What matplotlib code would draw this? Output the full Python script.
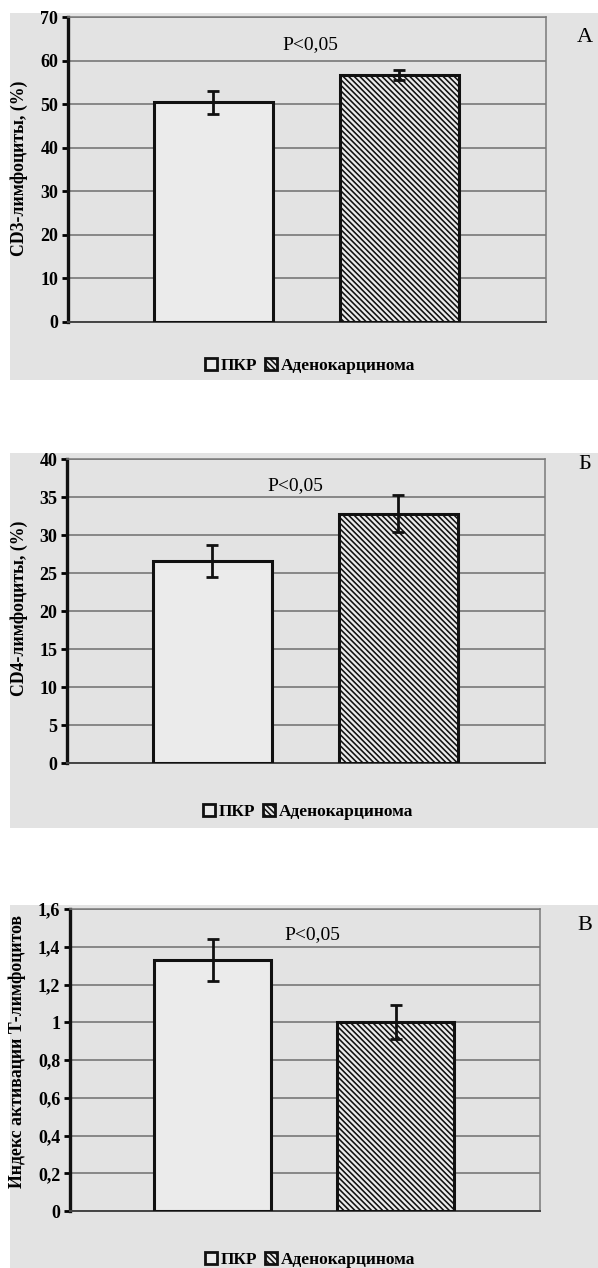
import numpy as np
import matplotlib
matplotlib.use('Agg')
import matplotlib.pyplot as plt
from matplotlib.patches import Rectangle, Patch

W, H = 598, 1268
plt.rcParams['font.family'] = ['Liberation Serif', 'DejaVu Serif']
plt.rcParams['hatch.linewidth'] = 1.15

groups = ['ПКР', 'Аденокарцинома']

cd3_mean = [50.4, 56.7]
cd3_err = [2.6, 1.2]
cd4_mean = [26.6, 32.8]
cd4_err = [2.1, 2.4]
idx_mean = [1.33, 1.00]
idx_err = [0.11, 0.09]

ylabels = ['CD3-лимфоциты, (%)', 'CD4-лимфоциты, (%)', 'Индекс активации Т-лимфоцитов']
panel_letters = ['А', 'Б', 'В']
pvalue = 'P<0,05'

BG = '#e3e3e3'
GRID = '#6e6e6e'
HATCH = '\\' * 6

fig = plt.figure(figsize=(W / 100, H / 100), dpi=100)
fig.patch.set_facecolor('white')


def fx(x):
    return x / W


def fy(y):
    return 1 - y / H


# panel layout in pixels: bg top/bottom, axes left/right/top/bottom
panels = [
    dict(bg=(13, 380), ax=(68, 546, 17, 322), ylim=70, step=10, ylab=(19, 168),
         p_xy=(0.506, 0.908), letter=(585, 38), leg=(310, 366)),
    dict(bg=(453, 828), ax=(67, 545, 459, 763), ylim=40, step=5, ylab=(19, 608),
         p_xy=(0.477, 0.914), letter=(585, 465), leg=(308, 812)),
    dict(bg=(905, 1268), ax=(70, 540, 909, 1211), ylim=1.6, step=0.2, ylab=(17, 1051),
         p_xy=(0.515, 0.914), letter=(585, 925), leg=(310, 1260)),
]
means = [cd3_mean, cd4_mean, idx_mean]
errs = [cd3_err, cd4_err, idx_err]

for i, p in enumerate(panels):
    t, b = p['bg']
    fig.patches.append(Rectangle((fx(10), fy(b)), fx(W - 10), (b - t) / H,
                                 transform=fig.transFigure, facecolor=BG,
                                 edgecolor='none', zorder=-10))
    l, r, at, ab = p['ax']
    ax = fig.add_axes([fx(l), fy(ab), (r - l) / W, (ab - at) / H])
    ax.set_zorder(1)
    ax.set_facecolor('none')

    x = np.arange(len(groups))
    ax.bar(x[0], means[i][0], width=0.64, facecolor='#ebebeb', edgecolor='#111111',
           linewidth=2.2, zorder=3)
    ax.bar(x[1], means[i][1], width=0.64, facecolor='#ebebeb', edgecolor='#111111',
           hatch=HATCH, linewidth=2.2, zorder=3)
    ax.errorbar(x, means[i], yerr=errs[i], fmt='none', ecolor='#111111',
                elinewidth=2, capsize=4, capthick=2, zorder=4)

    ax.set_xlim(-0.78, 1.79)
    ax.set_ylim(0, p['ylim'])
    ticks = np.arange(0, p['ylim'] + p['step'] / 2, p['step'])
    ax.set_yticks(ticks)
    if p['step'] < 1:
        ax.set_yticklabels([('%g' % round(v, 1)).replace('.', ',') for v in ticks])
    else:
        ax.set_yticklabels(['%d' % v for v in ticks])
    ax.set_xticks([])
    ax.tick_params(axis='y', direction='out', length=4, width=2, pad=3,
                   labelsize=13)
    for lab in ax.get_yticklabels():
        lab.set_fontweight('bold')
    ax.grid(axis='y', color=GRID, linewidth=1.1, zorder=1)
    ax.set_axisbelow(True)
    ax.spines['left'].set_linewidth(2.4)
    ax.spines['left'].set_color('#111111')
    for s in ['top', 'right']:
        ax.spines[s].set_color('#7a7a7a')
        ax.spines[s].set_linewidth(1.1)
    ax.spines['bottom'].set_color('#444444')
    ax.spines['bottom'].set_linewidth(1.4)

    ax.text(p['p_xy'][0], p['p_xy'][1], pvalue, transform=ax.transAxes,
            ha='center', va='center', fontsize=14)

    fig.text(fx(p['ylab'][0]), fy(p['ylab'][1]), ylabels[i], rotation=90,
             ha='center', va='center', fontsize=12.8, fontweight='bold')
    fig.text(fx(p['letter'][0]), fy(p['letter'][1]), panel_letters[i],
             ha='center', va='center', fontsize=16)

    handles = [Patch(facecolor='#ebebeb', edgecolor='#111111', linewidth=2),
               Patch(facecolor='#ebebeb', edgecolor='#111111', linewidth=2,
                     hatch=HATCH)]
    fig.legend(handles, groups, loc='center',
               bbox_to_anchor=(fx(p['leg'][0]), fy(p['leg'][1])),
               ncol=2, frameon=False, handlelength=0.7, handleheight=0.7,
               handletextpad=0.25, columnspacing=0.4,
               prop={'family': 'Liberation Serif', 'weight': 'bold', 'size': 12.5})

fig.savefig('out.png', dpi=100)
